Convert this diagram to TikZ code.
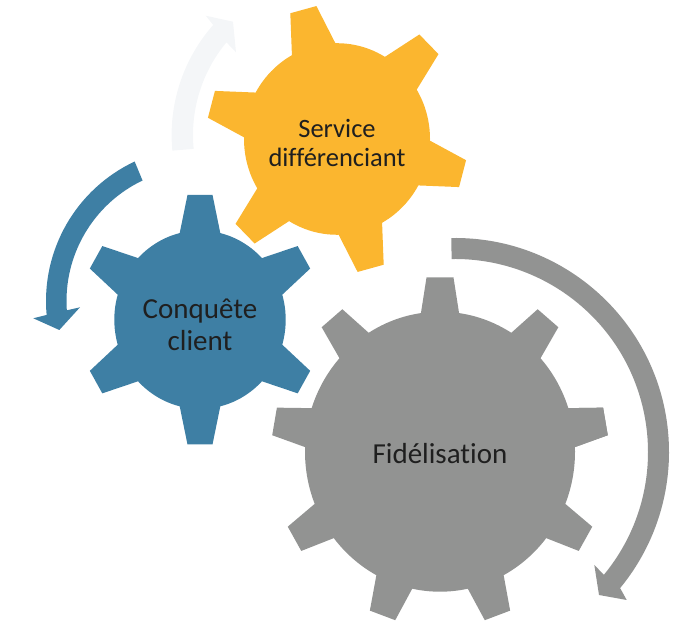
\documentclass[tikz,border=0pt]{standalone}
\usepackage{fontspec}
\setmainfont{Carlito}[Ligatures=NoCommon]
\definecolor{gearyellow}{HTML}{FBB62F}
\definecolor{gearblue}{HTML}{3E7FA4}
\definecolor{geargray}{HTML}{929392}
\definecolor{arrowpale}{HTML}{F4F6F8}
\definecolor{geartext}{HTML}{1F1F1F}
\tikzset{
	geartitle/.style={text=geartext, align=center, inner sep=0pt, font=\fontsize{29}{31.7}\selectfont}
}
\begin{document}
\begin{tikzpicture}[x=1pt,y=1pt]
		\useasboundingbox (0,0) rectangle (690,644);
		
		%Arrows
		\fill[arrowpale] ([shift={(185.4:166.4)}]338,509) arc[start angle=185.4,end angle=138.6,radius=166.4]
		-- (205.7,628.3) -- (233,622.3) -- (236,591.7)
		-- ([shift={(140.3:145)}]338,509) arc[start angle=140.3,end angle=185.5,radius=145] -- cycle;
		
		\fill[gearblue] ([shift={(115.1:154)}]200,343) arc[start angle=115.1,end angle=185.2,radius=154]
		-- (33.3,325.7) -- (59.3,314) -- (80,336.7)
		-- ([shift={(184:133.5)}]200,343) arc[start angle=184,end angle=115.5,radius=133.5] -- cycle;
		
		\fill[geargray] ([shift={(91:214)}]455,192) arc[start angle=91,end angle=-39.5,radius=214]
		-- (626.7,44) -- (599,49) -- (594.3,79)
		-- ([shift={(-39.5:193)}]455,192) arc[start angle=-39.5,end angle=91,radius=193] -- cycle;
		
		%Service gear
		\begin{scope}[shift={(337,505)},yscale=1.03]
		\fill[gearyellow] (0,0) circle (93);
		\foreach \a in {45,105,...,345}
		\fill[gearyellow,rotate=\a] (88,-23) -- (130,-13.5) -- (130,13.5) -- (88,23) -- cycle;
		\end{scope}
		
		%Conquete gear
		\begin{scope}[shift={(200,324.3)},yscale=1.04]
		\fill[gearblue] (0,0) circle (85.7);
		\foreach \a in {30,90,...,330}
		\fill[gearblue,rotate=\a] (80,-21) -- (120,-12.5) -- (120,12.5) -- (80,21) -- cycle;
		\end{scope}
		
		%Fidelisation gear
		\begin{scope}[shift={(440,192.3)},yscale=1.037]
		\fill[geargray] (0,0) circle (135);
		\foreach \a in {10,50,...,370}
		\fill[geargray,rotate=\a] (131,-19.5) -- (168,-13.5) -- (168,13.5) -- (131,19.5) -- cycle;
		\end{scope}
		
		%Labels
		\node (service) at (337,501) [geartitle, font=\fontsize{26.5}{29.5}\selectfont]{Service\\différenciant};
		\node (conquete) at (200,319) [geartitle]{Conquête\\client};
		\node (fidelisation) at (440,180) [geartitle, anchor=base]{Fidélisation};
		
\end{tikzpicture}
\end{document}
